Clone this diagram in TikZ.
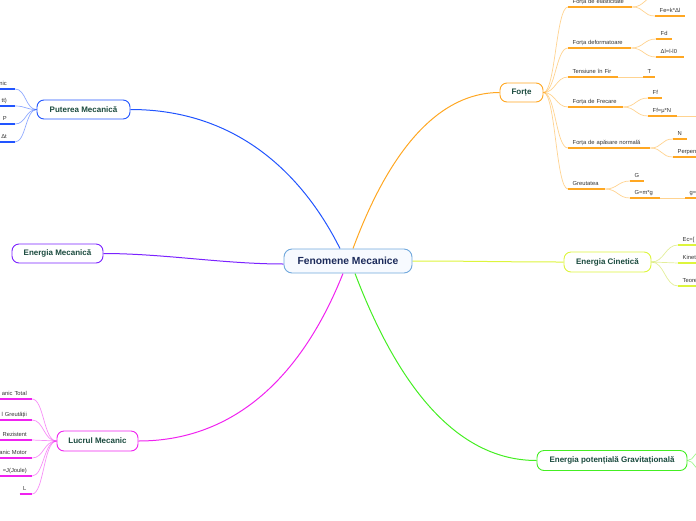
\documentclass[tikz,border=0pt]{standalone}
\usepackage{fontspec}
\setmainfont{Liberation Sans}
\usetikzlibrary{backgrounds}
\definecolor{cblue}{HTML}{2255FF}
\definecolor{cpurple}{HTML}{7B22FF}
\definecolor{cmag}{HTML}{F022F0}
\definecolor{corange}{HTML}{FFA722}
\definecolor{cyellow}{HTML}{DDF53C}
\definecolor{cgreen}{HTML}{44EE22}
\definecolor{ccenter}{HTML}{70A8DC}
\definecolor{cfill}{HTML}{F7FAFF}
\definecolor{ctext}{HTML}{1B2A5A}
\definecolor{ntext}{HTML}{1A4A3E}
\definecolor{leaftext}{HTML}{333333}
\tikzset{
  mainnode/.style={draw, rounded corners=7pt, fill=white, line width=0.9pt,
    font=\fontsize{8}{9}\selectfont\bfseries, text=ntext, minimum height=19pt, inner sep=0pt},
  leafbase/.style={font=\fontsize{5.8}{6.5}\selectfont, text=leaftext, inner ysep=2pt,
    text height=4.2pt, text depth=1.3pt},
  rleaf/.style={leafbase, anchor=south west, inner xsep=0pt, text width=#1, align=left,
    execute at begin node=\hspace*{4.5pt}},
  lleaf/.style={leafbase, anchor=south east, inner xsep=0pt, text width=40pt, align=right,
    execute at end node=\hspace*{#1}},
  mainconn/.style={line width=1pt},
  leafconn/.style={line width=0.7pt, draw opacity=0.5},
  uline/.style={line width=1.5pt},
}
\begin{document}
\begin{tikzpicture}[x=1pt,y=-1pt]
\useasboundingbox (0,0) rectangle (696,520);

% central and main nodes
\node[draw=ccenter, fill=cfill, rounded corners=8pt, line width=0.9pt, minimum width=128pt,
  minimum height=24pt, font=\fontsize{10.3}{12}\selectfont\bfseries, text=ctext, inner sep=0pt]
  (c) at (348,261) {Fenomene Mecanice};
\node[mainnode, draw=cblue, minimum width=93pt] (pm) at (83.5,109.5) {Puterea Mecanică};
\node[mainnode, draw=cpurple, minimum width=91pt] (em) at (57.5,253.5) {Energia Mecanică};
\node[mainnode, draw=cmag, minimum width=81pt, minimum height=20pt] (lm) at (97.5,441) {Lucrul Mecanic};
\node[mainnode, draw=corange, minimum width=43pt] (fo) at (521.5,92.5) {Forțe};
\node[mainnode, draw=cyellow, minimum width=87pt, minimum height=20pt] (ec) at (607.5,262) {Energia Cinetică};
\node[mainnode, draw=cgreen, minimum width=150pt, minimum height=20pt] (ep) at (612,460.5) {Energia potențială Gravitațională};

% main connectors
\begin{scope}[on background layer]
\draw[mainconn, cblue] ([xshift=-8pt]c.north) .. controls +(-35,-70) and +(110,0) .. (pm.east);
\draw[mainconn, corange] ([xshift=5pt]c.north) .. controls +(37,-100) and +(-60,0) .. (fo.west);
\draw[mainconn, cmag] ([xshift=-5pt]c.south) .. controls +(-43,108) and +(92,0) .. (lm.east);
\draw[mainconn, cgreen] ([xshift=7pt]c.south) .. controls +(45,118) and +(-77,0) .. (ep.west);
\draw[mainconn, cpurple] ([yshift=-3pt]c.west) .. controls +(-60,0) and +(60,0) .. (em.east);
\draw[mainconn, cyellow] (c.east) .. controls +(60,0) and +(-60,0) .. (ec.west);
\end{scope}

% Forte leaves
\node[rleaf=64pt] (fe) at (568,7) {Forța de elasticitate};
\node[rleaf=30pt] (fek) at (655,16) {Fe=k*Δl};
\coordinate (feup) at (657,-4);
\node[rleaf=63pt] (fd) at (568,48) {Forța deformatoare};
\node[rleaf=16pt] (fd1) at (656,39) {Fd};
\node[rleaf=28pt] (fd2) at (656,57) {Δl=l-l0};
\node[rleaf=50pt] (tf) at (568,77) {Tensiune în Fir};
\node[rleaf=12pt] (tt) at (643,77) {T};
\node[rleaf=55pt] (ff) at (568,107) {Forța de Frecare};
\node[rleaf=14pt] (ff1) at (648,98) {Ff};
\node[rleaf=29pt] (ff2) at (648,116) {Ff=μ*N};
\coordinate (ff2x) at (700,116);
\node[rleaf=82pt] (fa) at (568,148) {Forța de apăsare normală};
\node[rleaf=14pt] (fa1) at (673,139) {N};
\node[rleaf=30pt] (fa2) at (673,157) {Perpen};
\node[rleaf=37pt] (gr) at (568,189) {Greutatea};
\node[rleaf=14pt] (gr1) at (630,181) {G};
\node[rleaf=30pt] (gr2) at (630,198) {G=m*g};
\node[rleaf=20pt] (gr3) at (685,198) {g=};

\foreach \n in {fe,fd,tf,ff,fa,gr}
  \draw[leafconn, corange] (fo.east) .. controls +(12,0) and +(-12,0) .. (\n.south west);
\draw[leafconn, corange] (fe.south east) .. controls +(12,0) and +(-12,0) .. (fek.south west);
\draw[leafconn, corange] (fe.south east) .. controls +(12,0) and +(-12,0) .. (feup);
\draw[leafconn, corange] (fd.south east) .. controls +(12,0) and +(-12,0) .. (fd1.south west);
\draw[leafconn, corange] (fd.south east) .. controls +(12,0) and +(-12,0) .. (fd2.south west);
\draw[leafconn, corange] (tf.south east) -- (tt.south west);
\draw[leafconn, corange] (ff.south east) .. controls +(12,0) and +(-12,0) .. (ff1.south west);
\draw[leafconn, corange] (ff.south east) .. controls +(12,0) and +(-12,0) .. (ff2.south west);
\draw[leafconn, corange] (ff2.south east) -- (ff2x);
\draw[leafconn, corange] (fa.south east) .. controls +(12,0) and +(-12,0) .. (fa1.south west);
\draw[leafconn, corange] (fa.south east) .. controls +(12,0) and +(-12,0) .. (fa2.south west);
\draw[leafconn, corange] (gr.south east) .. controls +(12,0) and +(-12,0) .. (gr1.south west);
\draw[leafconn, corange] (gr.south east) .. controls +(12,0) and +(-12,0) .. (gr2.south west);
\draw[leafconn, corange] (gr2.south east) -- (gr3.south west);
\foreach \n in {fe,fek,fd,fd1,fd2,tf,tt,ff,ff1,ff2,fa,fa1,fa2,gr,gr1,gr2,gr3}
  \draw[uline, corange] (\n.south west) -- (\n.south east);

% Energia Cinetica leaves
\node[rleaf=30pt] (ec1) at (678,245) {Ec=[};
\node[rleaf=30pt] (ec2) at (678,263) {Kinet};
\node[rleaf=30pt] (ec3) at (678,286) {Teore};
\foreach \n in {ec1,ec2,ec3}{
  \draw[leafconn, cyellow!90!black] (ec.east) .. controls +(13,0) and +(-13,0) .. (\n.south west);
  \draw[uline, cyellow] (\n.south west) -- (\n.south east);
}

% Energia potentiala outgoing
\coordinate (ep1) at (702,450);
\coordinate (ep2) at (702,471);
\draw[leafconn, cgreen] (ep.east) .. controls +(7,0) and +(-7,0) .. (ep1);
\draw[leafconn, cgreen] (ep.east) .. controls +(7,0) and +(-7,0) .. (ep2);

% Puterea leaves
\node[lleaf=8pt] (pm1) at (15,89) {nic};
\node[lleaf=8pt] (pm2) at (15,106) {tt)};
\node[lleaf=8pt] (pm3) at (15,124) {P};
\node[lleaf=8pt] (pm4) at (15,142) {Δt};
\foreach \n in {pm1,pm2,pm3,pm4}{
  \draw[leafconn, cblue] (pm.west) .. controls +(-11,0) and +(11,0) .. (\n.south east);
  \draw[uline, cblue] (\n.south west) -- (\n.south east);
}

% Lucrul leaves
\node[lleaf=5pt] (lm1) at (32,399) {anic Total};
\node[lleaf=5pt] (lm2) at (32,420) {l Greutății};
\node[lleaf=5pt] (lm3) at (32,440) {Rezistent};
\node[lleaf=5pt] (lm4) at (32,458) {anic Motor};
\node[lleaf=5pt] (lm5) at (32,476) {=J(Joule)};
\node[lleaf=5.5pt, text width=12pt] (lm6) at (32,494) {L};
\foreach \n in {lm1,lm2,lm3,lm4,lm5,lm6}{
  \draw[leafconn, cmag] (lm.west) .. controls +(-13,0) and +(12,0) .. (\n.south east);
  \draw[uline, cmag] (\n.south west) -- (\n.south east);
}
\end{tikzpicture}
\end{document}
